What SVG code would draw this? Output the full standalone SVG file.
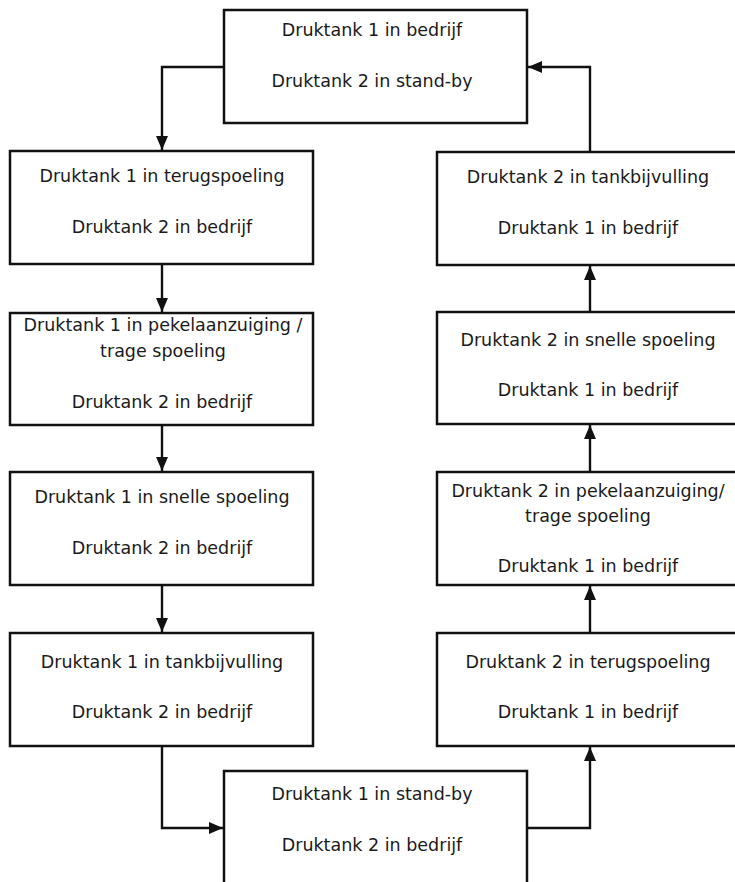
<svg xmlns="http://www.w3.org/2000/svg" width="735" height="882" viewBox="0 0 735 882">
<style>
.box rect{fill:#fff;stroke:#111;stroke-width:2.5}
.box text{font-family:"DejaVu Sans","Liberation Sans",sans-serif;font-size:17.5px;fill:#1a1a1a;text-anchor:middle}
.conn path{fill:none;stroke:#111;stroke-width:2.4}
</style>
<defs>
<marker id="ah" viewBox="0 0 14 12" refX="14" refY="6" markerWidth="14" markerHeight="12" markerUnits="userSpaceOnUse" orient="auto">
<path d="M0,0 L14,6 L0,12 z" fill="#111"/>
</marker>
</defs>
<rect width="735" height="882" fill="#fff"/>
<g class="conn" id="connectors">
<path d="M224,67 H162 V150" marker-end="url(#ah)"/>
<path d="M162,264 V312" marker-end="url(#ah)"/>
<path d="M162,425 V471" marker-end="url(#ah)"/>
<path d="M162,585 V632" marker-end="url(#ah)"/>
<path d="M162,746 V828 H223" marker-end="url(#ah)"/>
<path d="M527,828 H590 V747" marker-end="url(#ah)"/>
<path d="M590,633 V586" marker-end="url(#ah)"/>
<path d="M590,472 V425" marker-end="url(#ah)"/>
<path d="M590,312 V266" marker-end="url(#ah)"/>
<path d="M590,152 V67 H528" marker-end="url(#ah)"/>
</g>
<g class="box" id="n-top">
<rect x="224" y="10" width="303" height="113"/>
<text x="372" y="36">Druktank 1 in bedrijf</text>
<text x="372" y="87">Druktank 2 in stand-by</text>
</g>
<g class="box" id="n-l1">
<rect x="10" y="151" width="303" height="113"/>
<text x="162" y="182">Druktank 1 in terugspoeling</text>
<text x="162" y="233">Druktank 2 in bedrijf</text>
</g>
<g class="box" id="n-l2">
<rect x="10" y="313" width="303" height="112"/>
<text x="163" y="331">Druktank 1 in pekelaanzuiging /</text>
<text x="163" y="357">trage spoeling</text>
<text x="162" y="408">Druktank 2 in bedrijf</text>
</g>
<g class="box" id="n-l3">
<rect x="10" y="472" width="303" height="113"/>
<text x="162" y="503">Druktank 1 in snelle spoeling</text>
<text x="162" y="554">Druktank 2 in bedrijf</text>
</g>
<g class="box" id="n-l4">
<rect x="10" y="633" width="303" height="113"/>
<text x="162" y="668">Druktank 1 in tankbijvulling</text>
<text x="162" y="718">Druktank 2 in bedrijf</text>
</g>
<g class="box" id="n-bottom">
<rect x="224" y="771" width="303" height="125"/>
<text x="372" y="800">Druktank 1 in stand-by</text>
<text x="372" y="851">Druktank 2 in bedrijf</text>
</g>
<g class="box" id="n-r4">
<rect x="437" y="633" width="310" height="113"/>
<text x="588" y="668">Druktank 2 in terugspoeling</text>
<text x="588" y="718">Druktank 1 in bedrijf</text>
</g>
<g class="box" id="n-r3">
<rect x="437" y="472" width="310" height="113"/>
<text x="588" y="497">Druktank 2 in pekelaanzuiging/</text>
<text x="588" y="522">trage spoeling</text>
<text x="588" y="572">Druktank 1 in bedrijf</text>
</g>
<g class="box" id="n-r2">
<rect x="437" y="312" width="310" height="112"/>
<text x="588" y="346">Druktank 2 in snelle spoeling</text>
<text x="588" y="396">Druktank 1 in bedrijf</text>
</g>
<g class="box" id="n-r1">
<rect x="437" y="152" width="310" height="113"/>
<text x="588" y="183">Druktank 2 in tankbijvulling</text>
<text x="588" y="234">Druktank 1 in bedrijf</text>
</g>
</svg>
